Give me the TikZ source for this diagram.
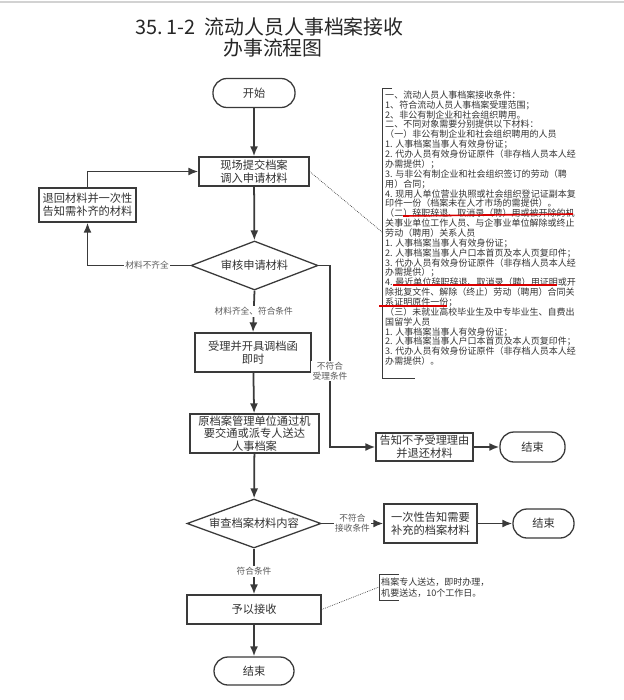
\documentclass[tikz,border=0pt]{standalone}
\usepackage{fontspec}
\setmainfont{Noto Sans CJK SC}
\usetikzlibrary{shapes.geometric,arrows.meta}
\definecolor{linegray}{HTML}{3A3A3A}
\definecolor{textgray}{HTML}{333333}

\begin{document}
\begin{tikzpicture}[x=0.03cm,y=-0.03cm,
	box/.style={draw=linegray, line width=1.1pt, fill=white, align=center, inner sep=1pt, text=textgray, font=\fontsize{9.6}{10.8}\selectfont},
	term/.style={box, rounded corners=0.42cm},
	decide/.style={box, diamond, shape aspect=2.6, inner sep=0pt},
	flow/.style={line width=1.5pt, draw=linegray, -{Latex[length=3mm,width=2.4mm]}},
	lab/.style={font=\fontsize{7.4}{8.6}\selectfont, text=black!65, fill=white, inner sep=1pt, align=center},
	note/.style={densely dotted, line width=0.6pt, draw=linegray},
	memo/.style={font=\fontsize{7.7}{8.42}\selectfont, text=black!80, align=left, inner sep=0pt}]
	
	\useasboundingbox (0,0) rectangle (624,700);
	\draw[gray!35, line width=1.5pt] (0,2) -- (624,2);
	
	% title
	\node[anchor=west, inner sep=0pt, font=\fontsize{17}{20}\selectfont, text=black!85] (title1) at (135,27) {35.\hspace{3pt}1-2\hspace{4pt} 流动人员人事档案接收};
	\node[anchor=west, inner sep=0pt, font=\fontsize{17}{20}\selectfont, text=black!85] (title2) at (223,48) {办事流程图};
	
	% main column
	\node[term, minimum width=2.46cm, minimum height=0.87cm] (start) at (254,93) {开始};
	\node[box, minimum width=3.3cm, minimum height=0.87cm] (submit) at (254,171.5) {现场提交档案\\调入申请材料};
	\node[box, minimum width=2.91cm, minimum height=1.02cm] (sendback) at (87.5,205) {退回材料并一次性\\告知需补齐的材料};
	\node[decide, minimum width=3.81cm, minimum height=1.47cm] (check) at (254.5,265.5) {审核申请材料};
	\node[box, minimum width=3.48cm, minimum height=1.17cm] (issue) at (253,352.5) {受理并开具调档函\\即时};
	\node[box, minimum width=3.87cm, minimum height=1.17cm] (transfer) at (254.5,433.5) {原档案管理单位通过机\\要交通或派专人送达\\人事档案};
	\node[box, minimum width=2.91cm, minimum height=0.84cm] (refuse) at (424.5,447) {告知不予受理理由\\并退还材料};
	\node[term, minimum width=1.95cm, minimum height=0.9cm] (endrefuse) at (532.5,447) {结束};
	\node[decide, minimum width=4.02cm, minimum height=1.47cm] (review) at (254,523.5) {审查档案材料内容};
	\node[box, minimum width=2.79cm, minimum height=1.17cm] (supplement) at (430.5,523.5) {一次性告知需要\\补充的档案材料};
	\node[term, minimum width=1.83cm, minimum height=0.87cm] (endsupp) at (543.5,523.5) {结束};
	\node[box, minimum width=4.02cm, minimum height=0.87cm] (accept) at (254,609.5) {予以接收};
	\node[term, minimum width=2.4cm, minimum height=0.84cm] (finish) at (254,671) {结束};
	
	% connectors
	\draw[flow] (start) -- (submit);
	\draw[flow] (submit) -- (check);
	\draw[flow] (check.west) -| node[lab, pos=0.21] {材料不齐全} (sendback.south);
	\draw[flow] (sendback.north) |- (submit.west);
	\draw[flow] (check.south) -- node[lab] {材料齐全、符合条件} (issue.north);
	\coordinate (rturn) at (330,447);
	\draw[flow] (check.east) -| node[lab, pos=0.79] {不符合\\受理条件} (rturn) -- (refuse.west);
	\draw[flow] (issue) -- (transfer);
	\draw[flow] (refuse) -- (endrefuse);
	\draw[flow] (transfer) -- (review);
	\draw[flow] (review.east) -- node[lab] {不符合\\接收条件} (supplement.west);
	\draw[flow] (supplement) -- (endsupp);
	\draw[flow] (review.south) -- node[lab] {符合条件} (accept.north);
	\draw[flow] (accept) -- (finish);
	
	% notes
	\draw[linegray, line width=0.8pt] (392,88) -- (382,88) -- (382,378) -- (415,378);
	\coordinate (brace1) at (382,232);
	\draw[note] (submit.east) -- (brace1);
	\node[memo, anchor=north west] (conds) at (385,90.5) {一、流动人员人事档案接收条件：\\
		1、符合流动人员人事档案受理范围；\\
		2、非公有制企业和社会组织聘用。\\
		二、不同对象需要分别提供以下材料：\\
		（一）非公有制企业和社会组织聘用的人员\\
		1. 人事档案当事人有效身份证；\\
		2. 代办人员有效身份证原件（非存档人员本人经\\
		办需提供）；\\
		3. 与非公有制企业和社会组织签订的劳动（聘\\
		用）合同；\\
		4. 现用人单位营业执照或社会组织登记证副本复\\
		印件一份（档案未在人才市场的需提供）。\\
		（二）辞职辞退、取消录（聘）用或被开除的机\\
		关事业单位工作人员、与企事业单位解除或终止\\
		劳动（聘用）关系人员\\
		1. 人事档案当事人有效身份证；\\
		2. 人事档案当事人户口本首页及本人页复印件；\\
		3. 代办人员有效身份证原件（非存档人员本人经\\
		办需提供）；\\
		4. 最近单位辞职辞退、取消录（聘）用证明或开\\
		除批复文件、解除（终止）劳动（聘用）合同关\\
		系证明原件一份；\\
		（三）未就业高校毕业生及中专毕业生、自费出\\
		国留学人员\\
		1. 人事档案当事人有效身份证；\\
		2. 人事档案当事人户口本首页及本人页复印件；\\
		3. 代办人员有效身份证原件（非存档人员本人经\\
		办需提供）。};
	\draw[red!85!black, line width=1.4pt] (403,216) -- (573,214);
	\draw[red!85!black, line width=1.4pt] (393,285) -- (557,285);
	\draw[red!85!black, line width=1.4pt] (379,306) -- (447,306);
	
	\draw[linegray, line width=0.8pt] (399,574) -- (379,574) -- (379,600) -- (399,600);
	\coordinate (brace2) at (379,587);
	\draw[note] (accept.east) -- (brace2);
	\node[memo, anchor=west, font=\fontsize{7.7}{9.3}\selectfont] (timing) at (381,587.5) {档案专人送达，即时办理，\\机要送达，10个工作日。};
	
\end{tikzpicture}
\end{document}
